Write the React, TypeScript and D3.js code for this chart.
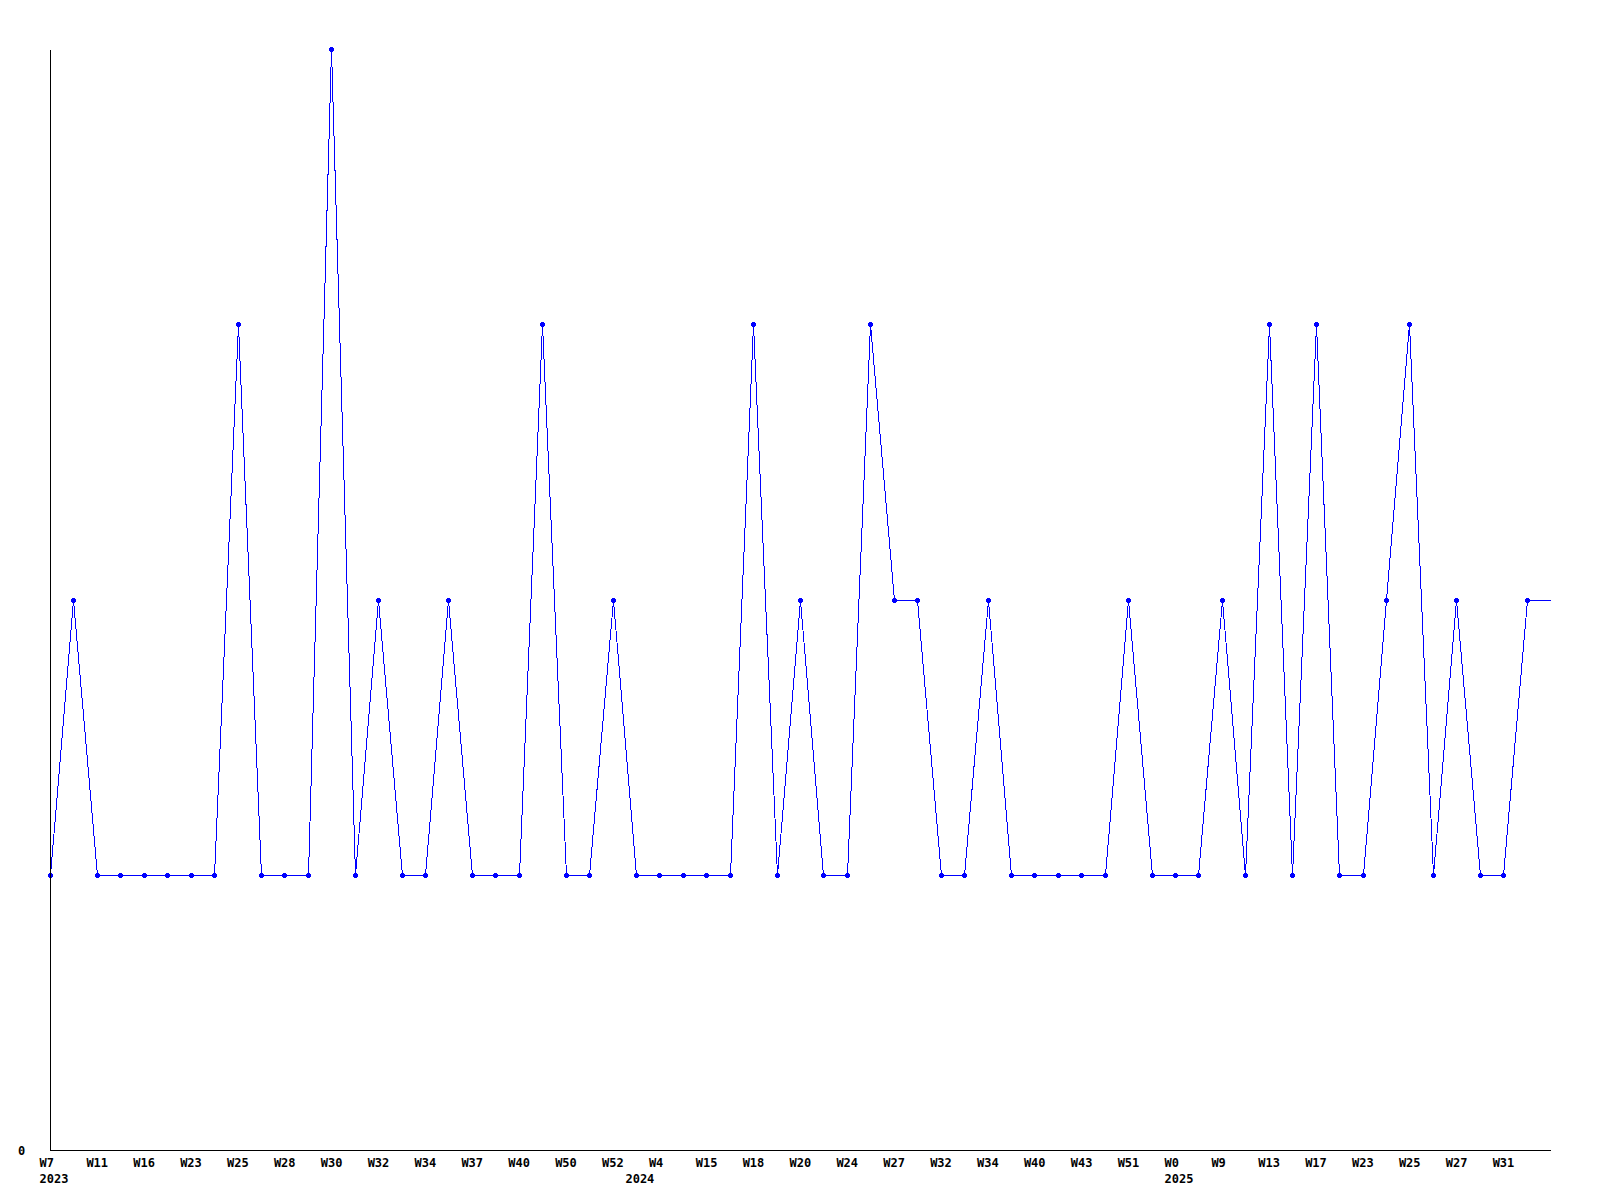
import React from "react";
import * as d3 from "d3";

const values: number[] = [
  1, 2, 1, 1, 1, 1, 1, 1, 3, 1,
  1, 1, 4, 1, 2, 1, 1, 2, 1, 1,
  1, 3, 1, 1, 2, 1, 1, 1, 1, 1,
  3, 1, 2, 1, 1, 3, 2, 2, 1, 1,
  2, 1, 1, 1, 1, 1, 2, 1, 1, 1,
  2, 1, 3, 1, 3, 1, 1, 2, 3, 1,
  2, 1, 1, 2, 2,
];

const weekLabels: string[] = [
  "W7", "W11", "W16", "W23", "W25", "W28", "W30", "W32", "W34", "W37", "W40",
  "W50", "W52", "W4", "W15", "W18", "W20", "W24", "W27", "W32", "W34", "W40",
  "W43", "W51", "W0", "W9", "W13", "W17", "W23", "W25", "W27", "W31",
];

const yearLabels: { index: number; label: string }[] = [
  { index: 0, label: "2023" },
  { index: 25, label: "2024" },
  { index: 48, label: "2025" },
];

const yTickLabels: number[] = [0];

export default function App() {
  const W = 1600;
  const H = 1200;
  const left = 50.5;
  const right = 1550.5;
  const top = 49.5;
  const bottom = 1150.5;

  const x = d3.scaleLinear().domain([0, values.length - 1]).range([left, right]);
  const y = d3.scaleLinear().domain([0, 4]).range([bottom, top]);

  const line = d3
    .line<number>()
    .x((_, i) => Math.floor(x(i)) + 0.5)
    .y((d) => Math.floor(y(d)) + 0.5);

  const font = "'DejaVu Sans Mono', monospace";

  return (
    <svg
      width={W}
      height={H}
      style={{ position: "absolute", left: 0, top: 0, background: "#fff" }}
    >
      <rect x={0} y={0} width={W} height={H} fill="#fff" />
      <path
        d={line(values) || ""}
        fill="none"
        stroke="#0000ff"
        strokeWidth={1}
        shapeRendering="crispEdges"
      />
      {values.slice(0, values.length - 1).map((v, i) => (
        <g key={i} fill="#0000ff" shapeRendering="crispEdges">
          <rect x={Math.floor(x(i)) - 2} y={Math.floor(y(v)) - 1} width={5} height={3} />
          <rect x={Math.floor(x(i)) - 1} y={Math.floor(y(v)) - 2} width={3} height={5} />
        </g>
      ))}
      <line
        x1={left}
        x2={left}
        y1={top}
        y2={bottom}
        stroke="#000"
        strokeWidth={1}
        shapeRendering="crispEdges"
      />
      <line
        x1={left}
        x2={right}
        y1={bottom}
        y2={bottom}
        stroke="#000"
        strokeWidth={1}
        shapeRendering="crispEdges"
      />
      {yTickLabels.map((t) => (
        <text
          key={t}
          x={18}
          y={y(t) + 4}
          fontFamily={font}
          fontWeight="bold"
          fontSize={12}
          fill="#000"
        >
          {t}
        </text>
      ))}
      {weekLabels.map((lab, k) => (
        <text
          key={k}
          x={x(k * 2) - 11}
          y={1167}
          fontFamily={font}
          fontWeight="bold"
          fontSize={12}
          fill="#000"
        >
          {lab}
        </text>
      ))}
      {yearLabels.map((yl) => (
        <text
          key={yl.label}
          x={x(yl.index) - 11}
          y={1183}
          fontFamily={font}
          fontWeight="bold"
          fontSize={12}
          fill="#000"
        >
          {yl.label}
        </text>
      ))}
    </svg>
  );
}
